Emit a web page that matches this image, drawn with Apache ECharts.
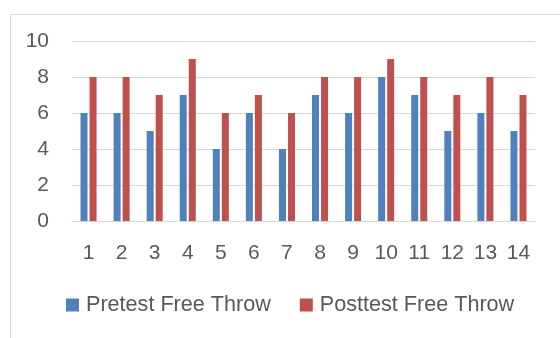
<!DOCTYPE html>
<html>
<head>
<meta charset="utf-8">
<script src="https://cdn.jsdelivr.net/npm/echarts@6/dist/echarts.min.js"></script>
<style>
html,body{margin:0;padding:0;background:#fff;}
#chart{width:560px;height:338px;}
</style>
</head>
<body>
<div id="chart"></div>
<script>
const categories = ['1','2','3','4','5','6','7','8','9','10','11','12','13','14'];
const pretest = [6,6,5,7,4,6,4,7,6,8,7,5,6,5];
const posttest = [8,8,7,9,6,7,6,8,8,9,8,7,8,7];
const seriesNames = ['Pretest Free Throw','Posttest Free Throw'];
const yTicks = {min:0, max:10, interval:2};

const FONT = '"Liberation Sans", Arial, sans-serif';
const chart = echarts.init(document.getElementById('chart'), null, {renderer:'canvas'});
chart.setOption({
  animation:false,
  backgroundColor:'#ffffff',
  graphic:[{
    type:'rect', left:8, top:12, silent:true,
    shape:{x:0,y:0,width:600,height:400},
    style:{fill:'none', stroke:'#D9D9D9', lineWidth:1}
  }],
  grid:{left:72, right:25, top:41, bottom:117, containLabel:false},
  legend:{
    data:seriesNames,
    left:66, top:294, padding:0,
    itemWidth:13, itemHeight:13, itemGap:29,
    icon:'rect',
    textStyle:{fontFamily:FONT, fontSize:21.6, color:'#595959', padding:[0,0,0,2]}
  },
  xAxis:{
    type:'category', data:categories,
    axisLine:{lineStyle:{color:'#D9D9D9', width:1}},
    axisTick:{show:false},
    axisLabel:{fontFamily:FONT, fontSize:21, color:'#595959', margin:22, interval:0}
  },
  yAxis:{
    type:'value', min:yTicks.min, max:yTicks.max, interval:yTicks.interval,
    axisLine:{show:false}, axisTick:{show:false},
    splitLine:{lineStyle:{color:'#D9D9D9', width:1}},
    axisLabel:{fontFamily:FONT, fontSize:21, color:'#595959', margin:23}
  },
  series:[
    {name:seriesNames[0], type:'bar', data:pretest, barWidth:7, barGap:'29%',
     itemStyle:{color:'#4F81BD'}},
    {name:seriesNames[1], type:'bar', data:posttest, barWidth:7, barGap:'29%',
     itemStyle:{color:'#C0504D'}}
  ]
});
</script>
</body>
</html>
